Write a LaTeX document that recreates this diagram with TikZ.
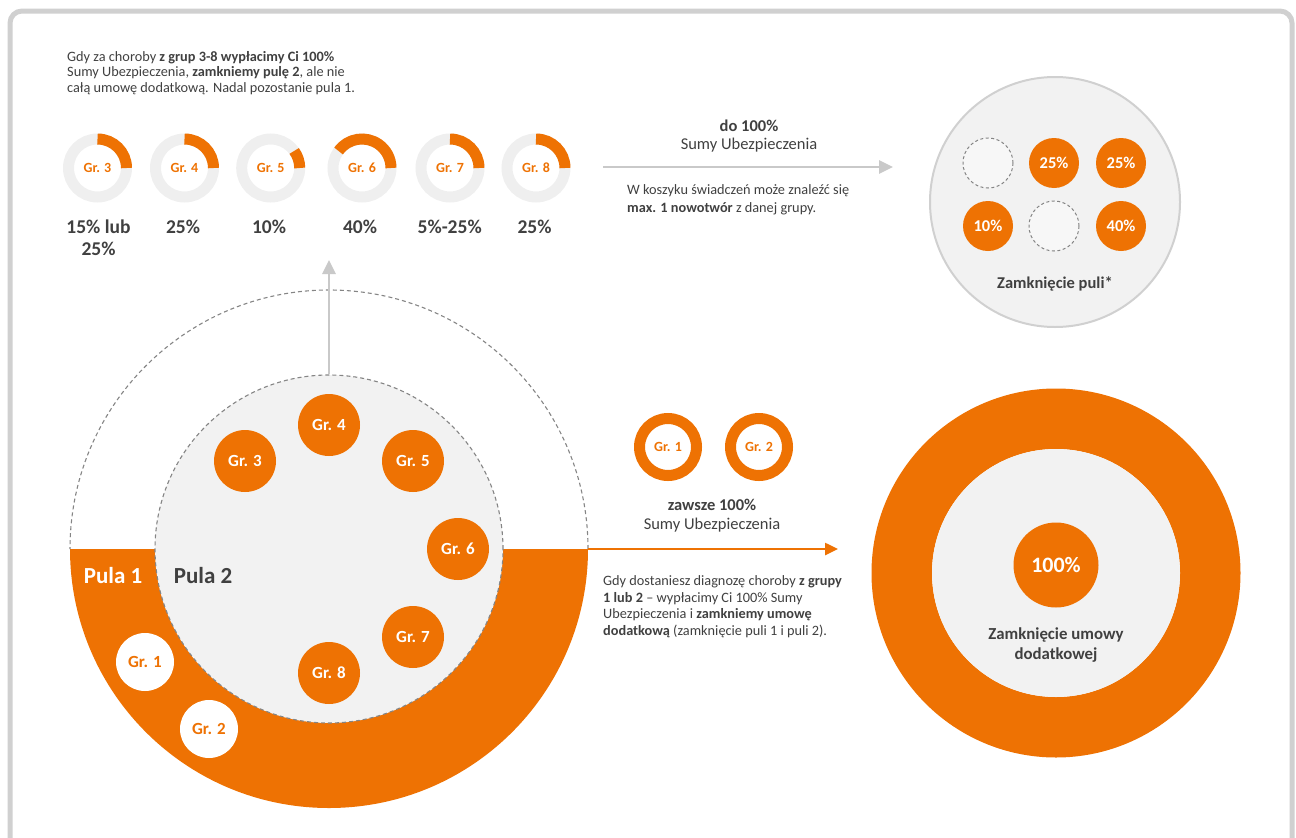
\documentclass[tikz,border=0pt]{standalone}
\usepackage{fontspec}
\setmainfont{Carlito}
\usetikzlibrary{arrows.meta}
\definecolor{org}{HTML}{EE7203}
\definecolor{tgray}{HTML}{404040}
\definecolor{lfill}{HTML}{F2F2F2}
\definecolor{trackc}{HTML}{EFEFEF}
\definecolor{agray}{HTML}{C9C9C9}
\definecolor{framegray}{HTML}{D0D0D0}
\definecolor{dgray}{HTML}{858585}
\newcommand\fsz[2]{\fontsize{#1}{#2}\selectfont}
\begin{document}
\begin{tikzpicture}[x=1pt,y=1pt,
  txt/.style={text=tgray, inner sep=0pt},
  donutlbl/.style={inner sep=0pt, text=org, font=\fsz{14}{16}\bfseries},
  track/.style={draw=trackc, line width=11pt},
  orgring/.style={draw=org, line width=11pt},
  pct/.style={txt, font=\fsz{19.5}{22}\bfseries, align=center},
  gcirc/.style={circle, fill=org, text=white, inner sep=0pt, minimum size=62pt, font=\fsz{17}{20}\bfseries},
  wcirc/.style={circle, fill=white, text=org, inner sep=0pt, minimum size=58pt, font=\fsz{17}{20}\bfseries},
  pcirc/.style={circle, fill=org, text=white, inner sep=0pt, minimum size=50pt, font=\fsz{16.5}{19}\bfseries},
  emptyc/.style={circle, fill=white!97!black, draw=dgray, line width=1pt, dash pattern=on 3pt off 2.5pt, inner sep=0pt, minimum size=50pt},
  dashc/.style={draw=dgray, line width=1.1pt, dash pattern=on 4pt off 3pt},
  garrow/.style={draw=agray, line width=2.8pt, -{Triangle[width=13pt,length=14pt]}},
  oarrow/.style={draw=org, line width=2.5pt, -{Triangle[width=12pt,length=13pt]}}
]
\useasboundingbox (0,0) rectangle (1296,-838);
% frame
\draw[framegray, line width=5pt, rounded corners=12pt] (10,-845) -- (10,-11) -- (1292,-11) -- (1292,-845);

% top-left paragraph
\node[txt, anchor=north west, align=left, font=\fsz{14.3}{15.5}] (intro) at (67,-51)
 {Gdy za choroby \textbf{z grup 3-8 wypłacimy Ci 100\%}\\
  Sumy Ubezpieczenia, \textbf{zamkniemy pulę 2}, ale nie\\
  całą umowę dodatkową. Nadal pozostanie pula 1.};

% donut row
\foreach \n/\x/\a in {3/97.5/90, 4/184.5/90, 5/270.7/36, 6/362/144, 7/450/90, 8/536/90} {
  \draw[track] (\x,-168) circle[radius=29];
  \draw[orgring] (\x,-168) ++(\a:29) arc[start angle=\a, end angle=0, radius=29];
  \node[donutlbl] (d\n) at (\x,-168) {Gr. \n};
}
\node[pct, anchor=north] (p3) at (98.5,-219.5) {15\% lub\\25\%};
\node[pct, anchor=north] (p4) at (183,-219.5) {25\%};
\node[pct, anchor=north] (p5) at (269,-219.5) {10\%};
\node[pct, anchor=north] (p6) at (360,-219.5) {40\%};
\node[pct, anchor=north] (p7) at (449.7,-219.5) {5\%-25\%};
\node[pct, anchor=north] (p8) at (534.5,-219.5) {25\%};

% top arrow and texts
\coordinate (ta1) at (603,-167);
\coordinate (ta2) at (893,-167);
\draw[garrow] (ta1) -- (ta2);
\node[txt, align=center, font=\fsz{16.5}{18.5}] (do100) at (749,-136) {\textbf{do 100\%}\\Sumy Ubezpieczenia};
\node[txt, anchor=north west, align=left, font=\fsz{14.3}{17.5}] (kosz) at (627,-184.5)
 {W koszyku świadczeń może znaleźć się\\\textbf{max. 1 nowotwór} z danej grupy.};

% right pool
\node[circle, fill=lfill, draw=framegray, line width=2pt, minimum size=250pt, inner sep=0pt] (pool) at (1055,-202) {};
\node[emptyc] (q1) at (988,-163) {};
\node[pcirc] (q2) at (1054,-163) {25\%};
\node[pcirc] (q3) at (1121,-163) {25\%};
\node[pcirc] (q4) at (988,-226) {10\%};
\node[emptyc] (q5) at (1054,-226) {};
\node[pcirc] (q6) at (1121,-226) {40\%};
\node[txt, font=\fsz{16.5}{19}\bfseries] (zp) at (1055,-283.5) {Zamknięcie puli*};

% big left circle
\coordinate (C) at (329,-549);
\fill[org] (70,-549) arc[start angle=180, end angle=360, radius=259] -- cycle;
\draw[dashc] (588,-549) arc[start angle=0, end angle=180, radius=259];
\node[circle, fill=lfill, draw=dgray, line width=1.1pt, dash pattern=on 4pt off 3pt, minimum size=348pt, inner sep=0pt] (p2) at (C) {};
\node[gcirc] (g3) at (245,-461) {Gr. 3};
\node[gcirc] (g4) at (329,-425) {Gr. 4};
\node[gcirc] (g5) at (413,-461) {Gr. 5};
\node[gcirc] (g6) at (458,-549) {Gr. 6};
\node[gcirc] (g7) at (413,-637) {Gr. 7};
\node[gcirc] (g8) at (329,-673) {Gr. 8};
\node[wcirc] (g1) at (145,-662) {Gr. 1};
\node[wcirc] (g2) at (209,-729) {Gr. 2};
\node[inner sep=0pt, text=white, font=\fsz{23}{26}\bfseries] (pula1) at (113,-576) {Pula 1};
\node[inner sep=0pt, text=tgray, font=\fsz{23}{26}\bfseries] (pula2) at (203,-576) {Pula 2};

% vertical arrow
\coordinate (up) at (329,-260);
\draw[garrow] (p2.north) -- (up);

% orange arrow
\coordinate (bigE) at (588,-549);
\coordinate (oe) at (838,-549);
\draw[oarrow] (bigE) -- (oe);

% Gr.1 / Gr.2 donuts
\draw[orgring] (668,-447) circle[radius=28.5];
\node[donutlbl] (h1) at (668,-447) {Gr. 1};
\draw[orgring] (759,-447) circle[radius=28.5];
\node[donutlbl] (h2) at (759,-447) {Gr. 2};
\node[txt, align=center, font=\fsz{16.5}{19}] (zaw) at (712,-516) {\textbf{zawsze 100\%}\\Sumy Ubezpieczenia};
\node[txt, anchor=north west, align=left, font=\fsz{14.3}{16.5}] (diag) at (603,-575.5)
 {Gdy dostaniesz diagnozę choroby \textbf{z grupy}\\
  \textbf{1 lub 2} -- wypłacimy Ci 100\% Sumy\\
  Ubezpieczenia i \textbf{zamkniemy umowę}\\
  \textbf{dodatkową} (zamknięcie puli 1 i puli 2).};

% big right donut
\coordinate (R) at (1056,-573);
\draw[org, line width=60.5pt] (R) circle[radius=154.25];
\fill[lfill] (R) circle[radius=124];
\node[circle, fill=org, text=white, inner sep=0pt, minimum size=85pt, font=\fsz{22}{25}\bfseries] (full) at (1056,-565) {100\%};
\node[txt, align=center, font=\fsz{16.8}{20}\bfseries] (zum) at (1056,-645) {Zamknięcie umowy\\dodatkowej};
\end{tikzpicture}
\end{document}
